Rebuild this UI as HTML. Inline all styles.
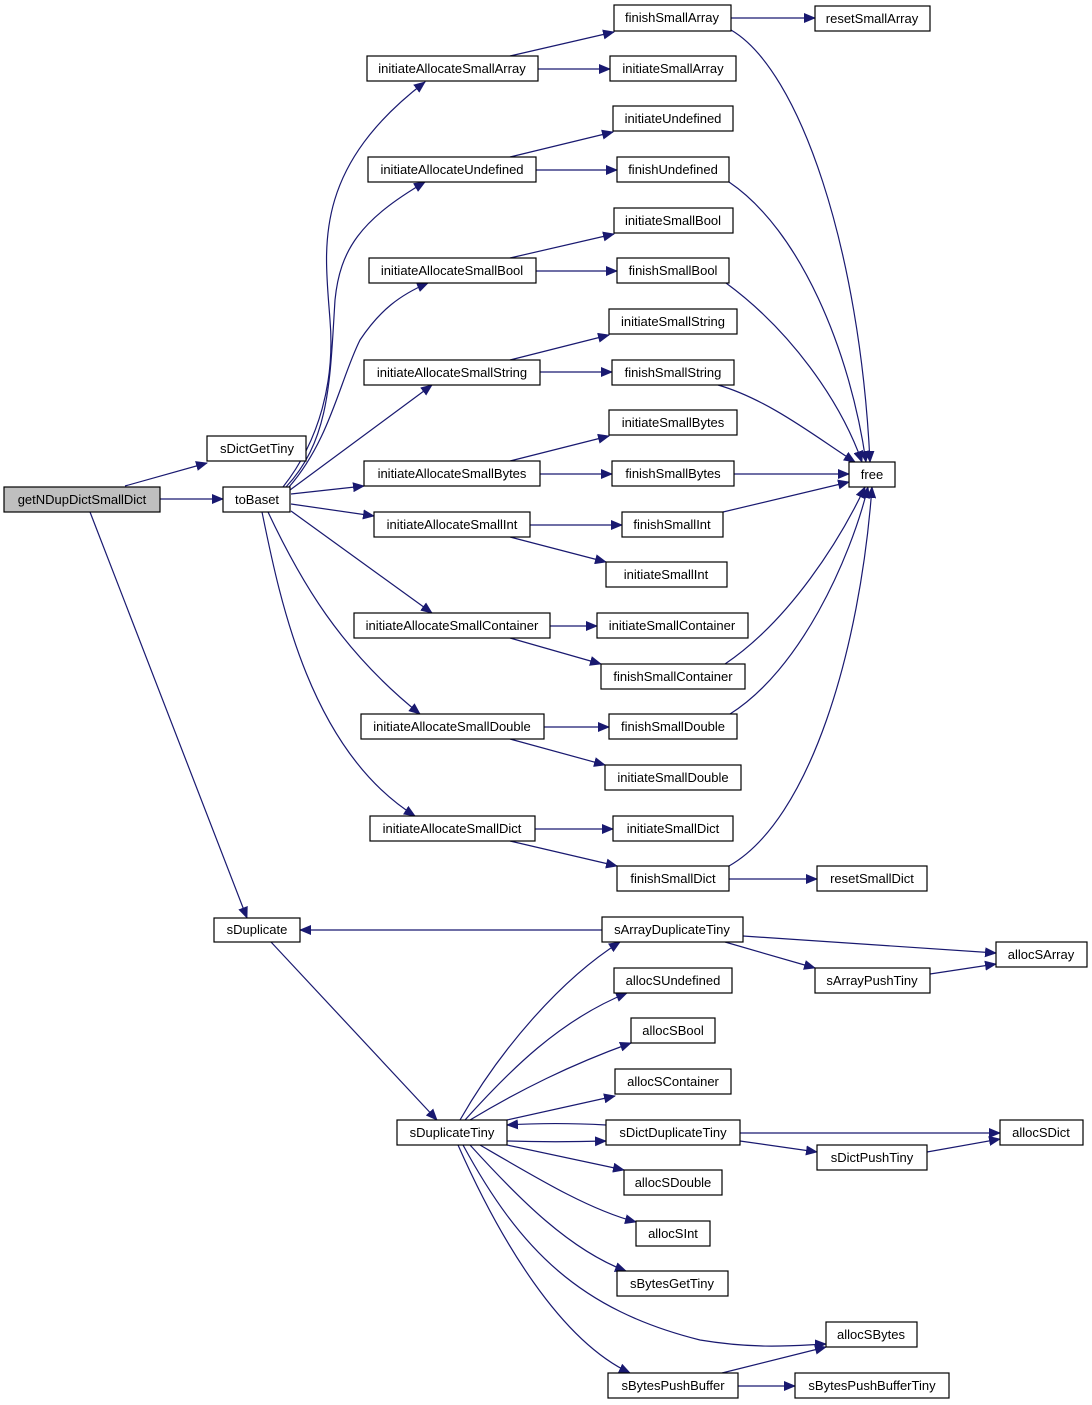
<!DOCTYPE html>
<html><head><meta charset="utf-8"><style>
html,body{margin:0;padding:0;background:#fff;}
svg{display:block;}
text{font-family:"Liberation Sans",Arial,sans-serif;font-size:13px;fill:#000;}
</style></head><body>
<svg width="1092" height="1405" viewBox="0 0 1092 1405" xmlns="http://www.w3.org/2000/svg">
<defs><marker id="a" markerWidth="12" markerHeight="10" refX="11" refY="5" orient="auto" markerUnits="userSpaceOnUse"><path d="M0,0 L12,5 L0,10 z" fill="#191970"/></marker></defs>
<g fill="none" stroke="#191970" stroke-width="1.2" marker-end="url(#a)">
<path d="M125,486 L207,463"/>
<path d="M160,499 L223,499"/>
<path d="M90,512 L247,918"/>
<path d="M283,487 C320,440 335,380 330,320 C325,250 310,170 425,82"/>
<path d="M286,487 C330,440 330,380 335,300 C340,250 360,220 425,182"/>
<path d="M289,487 C330,440 340,380 360,340 C380,310 400,295 428,283"/>
<path d="M290,490 L432,385"/>
<path d="M291,494 L364,486"/>
<path d="M291,504 L374,516"/>
<path d="M291,511 L432,613"/>
<path d="M268,512 C300,580 340,650 420,714"/>
<path d="M262,512 C280,600 310,750 415,816"/>
<path d="M510,56 L614,32"/>
<path d="M538,69 L610,69"/>
<path d="M731,18 L815,18"/>
<path d="M731,30 C800,70 860,250 870,462"/>
<path d="M510,157 L613,132"/>
<path d="M536,170 L617,170"/>
<path d="M729,182 C800,230 850,350 866,462"/>
<path d="M510,258 L614,234"/>
<path d="M536,271 L617,271"/>
<path d="M726,283 C790,330 840,400 862,462"/>
<path d="M510,360 L609,335"/>
<path d="M540,372 L612,372"/>
<path d="M718,385 C770,400 820,440 855,462"/>
<path d="M510,461 L609,436"/>
<path d="M540,474 L612,474"/>
<path d="M734,474 L849,474"/>
<path d="M530,525 L622,525"/>
<path d="M510,537 L606,562"/>
<path d="M723,512 L849,482"/>
<path d="M550,626 L597,626"/>
<path d="M510,638 L601,664"/>
<path d="M725,664 C790,620 840,540 865,487"/>
<path d="M544,727 L609,727"/>
<path d="M510,739 L605,765"/>
<path d="M730,714 C800,670 850,560 868,487"/>
<path d="M535,829 L613,829"/>
<path d="M510,841 L617,866"/>
<path d="M729,879 L817,879"/>
<path d="M729,866 C810,820 860,650 872,487"/>
<path d="M602,930 L300,930"/>
<path d="M271,942 L437,1120"/>
<path d="M743,936 L996,953"/>
<path d="M725,942 L815,968"/>
<path d="M930,974 L996,964"/>
<path d="M460,1120 C500,1050 560,980 620,942"/>
<path d="M465,1120 C510,1070 560,1020 627,993"/>
<path d="M470,1120 C520,1090 570,1065 631,1043"/>
<path d="M507,1120 L615,1096"/>
<path d="M507,1141 C540,1142 570,1142 606,1141"/>
<path d="M606,1125 C570,1123 540,1123 507,1125"/>
<path d="M740,1133 L1000,1133"/>
<path d="M740,1141 L817,1152"/>
<path d="M927,1152 L1000,1139"/>
<path d="M507,1145 L624,1170"/>
<path d="M480,1145 C540,1180 590,1210 636,1222"/>
<path d="M470,1145 C520,1200 570,1250 626,1271"/>
<path d="M463,1145 C520,1250 580,1310 700,1340 C760,1350 800,1345 826,1344"/>
<path d="M458,1145 C500,1240 560,1340 630,1373"/>
<path d="M722,1373 L826,1347"/>
<path d="M738,1386 L795,1386"/>
</g>
<g stroke="#000" stroke-width="1.2" fill="#fff">
<rect x="4" y="487" width="156" height="25" fill="#bfbfbf"/>
<rect x="207" y="436" width="99" height="25"/>
<rect x="223" y="487" width="67" height="25"/>
<rect x="214" y="918" width="86" height="24"/>
<rect x="397" y="1120" width="110" height="25"/>
<rect x="367" y="56" width="171" height="25"/>
<rect x="368" y="157" width="168" height="25"/>
<rect x="369" y="258" width="167" height="25"/>
<rect x="364" y="360" width="176" height="25"/>
<rect x="364" y="461" width="176" height="25"/>
<rect x="374" y="512" width="156" height="25"/>
<rect x="354" y="613" width="196" height="25"/>
<rect x="361" y="714" width="183" height="25"/>
<rect x="370" y="816" width="165" height="25"/>
<rect x="614" y="5" width="117" height="26"/>
<rect x="815" y="6" width="115" height="25"/>
<rect x="610" y="56" width="126" height="25"/>
<rect x="613" y="106" width="120" height="25"/>
<rect x="617" y="157" width="112" height="25"/>
<rect x="614" y="208" width="119" height="25"/>
<rect x="617" y="258" width="112" height="25"/>
<rect x="609" y="309" width="128" height="25"/>
<rect x="612" y="360" width="122" height="25"/>
<rect x="609" y="410" width="128" height="25"/>
<rect x="612" y="461" width="122" height="25"/>
<rect x="622" y="512" width="101" height="25"/>
<rect x="606" y="562" width="121" height="25"/>
<rect x="597" y="613" width="151" height="25"/>
<rect x="601" y="664" width="144" height="25"/>
<rect x="609" y="714" width="128" height="25"/>
<rect x="605" y="765" width="136" height="25"/>
<rect x="613" y="816" width="120" height="25"/>
<rect x="617" y="866" width="112" height="25"/>
<rect x="817" y="866" width="110" height="25"/>
<rect x="849" y="462" width="46" height="25"/>
<rect x="602" y="917" width="141" height="25"/>
<rect x="996" y="942" width="91" height="25"/>
<rect x="815" y="968" width="115" height="25"/>
<rect x="614" y="968" width="118" height="25"/>
<rect x="631" y="1018" width="84" height="25"/>
<rect x="615" y="1069" width="116" height="25"/>
<rect x="606" y="1120" width="134" height="25"/>
<rect x="1000" y="1120" width="83" height="25"/>
<rect x="817" y="1145" width="110" height="25"/>
<rect x="624" y="1170" width="98" height="25"/>
<rect x="636" y="1221" width="74" height="25"/>
<rect x="617" y="1271" width="111" height="25"/>
<rect x="826" y="1322" width="91" height="25"/>
<rect x="608" y="1373" width="130" height="25"/>
<rect x="795" y="1373" width="154" height="25"/>
</g>
<g text-anchor="middle">
<text x="82" y="504">getNDupDictSmallDict</text>
<text x="257" y="453">sDictGetTiny</text>
<text x="257" y="504">toBaset</text>
<text x="257" y="934">sDuplicate</text>
<text x="452" y="1137">sDuplicateTiny</text>
<text x="452" y="73">initiateAllocateSmallArray</text>
<text x="452" y="174">initiateAllocateUndefined</text>
<text x="452" y="275">initiateAllocateSmallBool</text>
<text x="452" y="377">initiateAllocateSmallString</text>
<text x="452" y="478">initiateAllocateSmallBytes</text>
<text x="452" y="529">initiateAllocateSmallInt</text>
<text x="452" y="630">initiateAllocateSmallContainer</text>
<text x="452" y="731">initiateAllocateSmallDouble</text>
<text x="452" y="833">initiateAllocateSmallDict</text>
<text x="672" y="22">finishSmallArray</text>
<text x="872" y="23">resetSmallArray</text>
<text x="673" y="73">initiateSmallArray</text>
<text x="673" y="123">initiateUndefined</text>
<text x="673" y="174">finishUndefined</text>
<text x="673" y="225">initiateSmallBool</text>
<text x="673" y="275">finishSmallBool</text>
<text x="673" y="326">initiateSmallString</text>
<text x="673" y="377">finishSmallString</text>
<text x="673" y="427">initiateSmallBytes</text>
<text x="673" y="478">finishSmallBytes</text>
<text x="672" y="529">finishSmallInt</text>
<text x="666" y="579">initiateSmallInt</text>
<text x="672" y="630">initiateSmallContainer</text>
<text x="673" y="681">finishSmallContainer</text>
<text x="673" y="731">finishSmallDouble</text>
<text x="673" y="782">initiateSmallDouble</text>
<text x="673" y="833">initiateSmallDict</text>
<text x="673" y="883">finishSmallDict</text>
<text x="872" y="883">resetSmallDict</text>
<text x="872" y="479">free</text>
<text x="672" y="934">sArrayDuplicateTiny</text>
<text x="1041" y="959">allocSArray</text>
<text x="872" y="985">sArrayPushTiny</text>
<text x="673" y="985">allocSUndefined</text>
<text x="673" y="1035">allocSBool</text>
<text x="673" y="1086">allocSContainer</text>
<text x="673" y="1137">sDictDuplicateTiny</text>
<text x="1041" y="1137">allocSDict</text>
<text x="872" y="1162">sDictPushTiny</text>
<text x="673" y="1187">allocSDouble</text>
<text x="673" y="1238">allocSInt</text>
<text x="672" y="1288">sBytesGetTiny</text>
<text x="871" y="1339">allocSBytes</text>
<text x="673" y="1390">sBytesPushBuffer</text>
<text x="872" y="1390">sBytesPushBufferTiny</text>
</g>
</svg>
</body></html>
